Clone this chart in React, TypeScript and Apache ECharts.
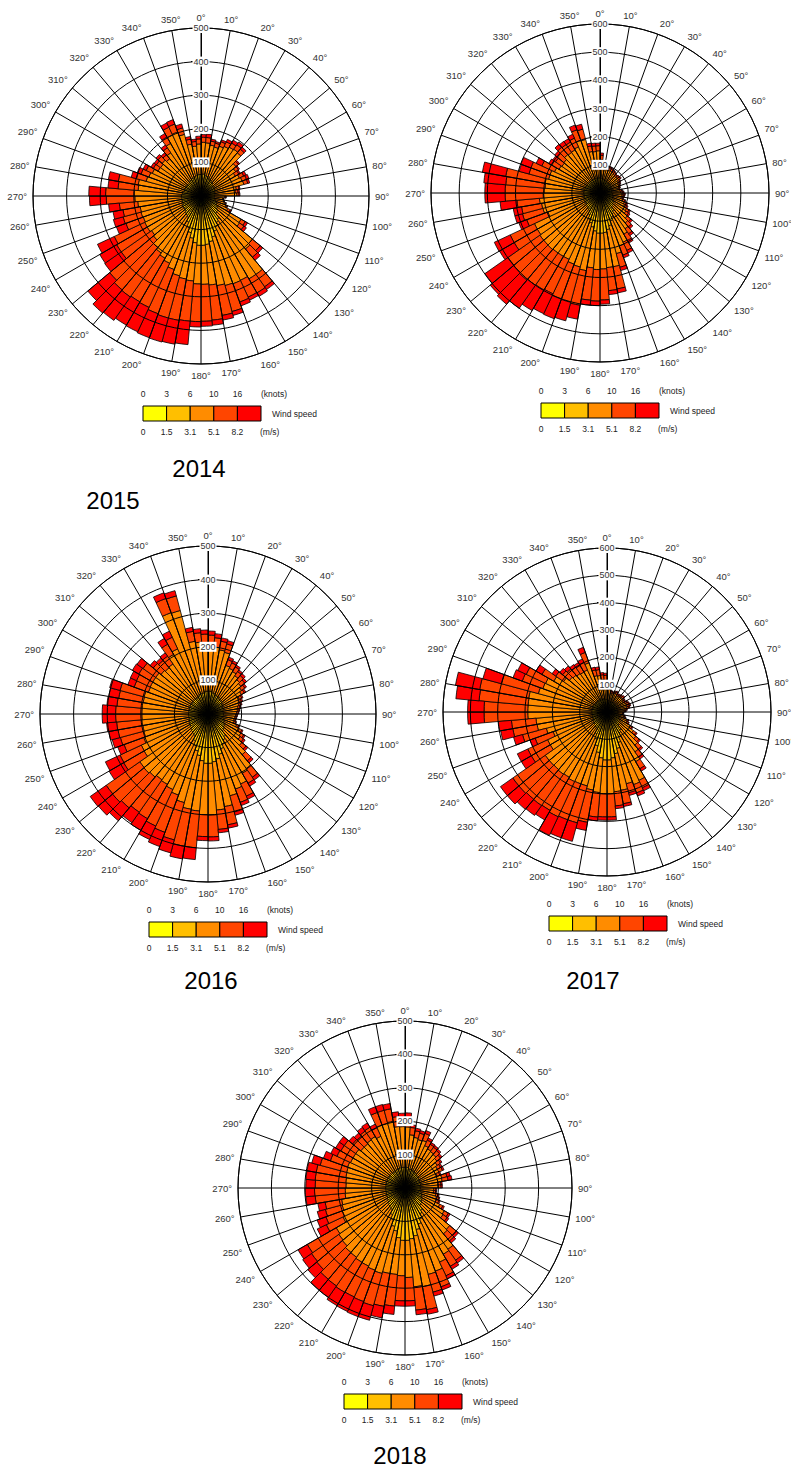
import React, { useEffect, useRef } from 'react';
import * as echarts from 'echarts';

// ---------- categories / labels ----------
const DIRECTIONS = ['0','5','10','15','20','25','30','35','40','45','50','55','60','65','70','75','80','85','90','95','100','105','110','115','120','125','130','135','140','145','150','155','160','165','170','175','180','185','190','195','200','205','210','215','220','225','230','235','240','245','250','255','260','265','270','275','280','285','290','295','300','305','310','315','320','325','330','335','340','345','350','355'];
const SPEED_KNOTS = ['0', '3', '6', '10', '16'];
const SPEED_MS = ['0', '1.5', '3.1', '5.1', '8.2'];
const CLASS_NAMES = ['0-1.5 m/s', '1.5-3.1 m/s', '3.1-5.1 m/s', '5.1-8.2 m/s', '>8.2 m/s'];
const COLORS = ['#FFFF00', '#FFBF00', '#FF8C00', '#FF4500', '#FF0000'];
const YEARS = ['2014', '2015', '2016', '2017', '2018'];
const RADIUS_MAX = [500, 600, 500, 600, 500];

// ---------- 2014 ----------
const Y2014_C1 = [25,24,22,22,20,20,18,18,17,16,16,16, 15,15,15,15,14,14,14,14,16,16,18,18, 20,20,22,22,24,24,26,26,28,28,28,30, 30,30,30,28,28,26,26,24,24,22,22,22, 22,20,20,20,20,20,20,20,20,18,18,18, 18,18,18,18,18,20,20,20,22,22,24,24];
const Y2014_C2 = [40,42,40,38,38,36,36,34,34,32,30,30, 30,30,28,28,28,26,26,26,28,30,32,34, 38,40,44,46,60,67,75,85,98,110,117,117, 117,110,98,85,72,60,48,46,44,42,40,40, 40,38,38,38,38,38,38,36,36,34,34,34, 34,34,34,34,36,36,38,38,38,40,40,40];
const Y2014_C3 = [95,93,92,91,100,107,114,118,117,88,80,72, 81,85,89,64,61,67,31,25,25,28,29,36, 80,80,134,138,201,194,176,167,150,133,121,116, 115,114,123,133,133,135,140,137,132,121,118,123, 123,125,127,126,131,139,141,132,134,117,113,108, 96,95,99,93,103,125,143,145,130,95,85,91];
const Y2014_C4 = [15,16,12,12,14,15,14,16,14,10,10,12, 14,14,12,8,8,6,3,2,2,3,4,8, 14,16,30,32,45,48,55,58,80,90,105,110, 112,120,125,130,140,145,150,160,165,170,110,105, 100,55,55,52,55,85,85,60,60,30,25,20, 16,15,16,15,18,22,25,25,20,15,14,15];
const Y2014_C5 = [8,10,6,5,6,8,10,10,8,4,4,5, 8,8,6,3,4,3,1,1,1,1,2,4, 8,9,10,12,10,12,10,12,12,14,15,15, 16,70,72,74,76,80,80,85,90,85,60,58, 55,30,30,30,32,50,50,30,30,16,12,10, 8,8,8,8,10,12,14,14,12,8,7,8];

// ---------- 2015 ----------
const Y2015_C1 = [18,18,17,17,16,16,16,15,15,15,15,14, 14,14,14,14,14,14,15,15,15,16,16,17, 18,18,20,20,22,22,24,24,26,26,28,28, 28,28,27,26,26,25,24,24,23,22,22,21, 21,20,20,20,20,20,20,20,20,19,19,19, 18,18,18,18,18,18,18,18,18,18,18,18];
const Y2015_C2 = [35,34,33,33,32,32,30,30,30,30,30,30, 28,28,28,28,28,28,30,30,30,32,34,36, 38,40,42,44,56,63,70,82,94,106,113,115, 115,108,96,84,72,60,48,46,44,42,40,40, 40,38,38,38,38,38,38,38,38,36,36,36, 36,36,36,36,36,36,36,36,36,36,36,36];
const Y2015_C3 = [65,43,38,36,40,38,39,37,34,36,36,32, 31,29,26,24,29,32,34,34,32,36,42,43, 53,54,65,75,77,84,99,94,103,134,125,127, 129,131,157,162,171,175,188,190,195,197,199,196, 196,139,152,153,158,144,141,138,140,134,134,123, 114,111,114,124,122,123,127,145,143,96,94,96];
const Y2015_C4 = [16,10,8,8,8,8,7,7,6,6,7,6, 6,5,5,4,6,7,7,6,6,7,8,9, 10,12,16,18,22,26,32,35,50,80,82,110, 112,115,125,130,132,135,138,140,142,140,138,95, 95,80,75,72,80,135,138,140,142,72,72,50, 30,28,30,34,34,32,34,40,38,20,20,18];
const Y2015_C5 = [8,5,4,4,4,4,3,3,3,3,4,3, 3,2,2,2,3,4,4,3,3,4,5,5, 6,6,7,8,8,10,10,10,12,14,14,15, 16,18,50,68,74,78,84,100,112,108,100,60, 62,30,28,30,60,72,72,78,84,36,38,22, 12,12,12,14,14,14,15,18,18,10,10,9];

// ---------- 2016 ----------
const Y2016_C1 = [24,24,22,22,20,20,20,18,18,18,18,17, 17,16,16,16,16,16,16,16,16,17,18,18, 20,20,22,22,24,24,26,26,28,28,28,30, 30,30,28,28,27,26,25,24,24,23,22,22, 22,21,21,20,20,20,20,20,20,20,20,20, 20,20,20,20,20,20,21,22,22,22,23,24];
const Y2016_C2 = [44,44,42,42,40,40,38,38,36,36,34,34, 32,32,32,30,30,30,30,30,30,32,34,36, 38,40,42,44,58,65,72,84,96,108,115,117, 117,110,98,86,74,62,50,48,46,44,42,40, 40,38,38,38,38,38,38,38,38,38,38,38, 38,38,38,38,38,38,40,42,42,42,44,44];
const Y2016_C3 = [137,132,130,126,94,90,88,83,79,74,70,64, 54,50,47,45,42,39,36,34,33,32,39,49, 55,57,68,92,116,115,132,128,128,144,144,154, 153,150,162,159,156,160,167,167,175,182,184,158, 157,145,139,139,140,139,139,139,138,139,131,132, 132,132,125,122,124,147,153,257,255,156,148,142];
const Y2016_C4 = [30,28,26,26,18,18,16,15,16,15,12,10, 8,8,7,6,5,5,4,4,4,5,6,8, 10,12,16,24,32,34,40,42,50,55,58,65, 65,110,112,115,118,120,118,118,120,122,122,70, 70,62,72,75,75,78,78,75,74,74,45,45, 48,46,30,28,28,35,38,45,45,30,28,28];
const Y2016_C5 = [12,12,10,10,8,7,6,6,8,7,6,5, 4,4,3,3,2,2,2,2,2,2,3,4, 5,6,7,8,10,10,10,10,10,10,10,12, 12,35,38,40,45,44,40,38,50,55,58,50, 48,20,25,28,30,40,40,30,30,32,20,20, 22,22,12,10,12,20,20,18,16,12,12,12];

// ---------- 2017 ----------
const Y2017_C1 = [16,15,14,14,14,14,14,14,14,14,14,14, 14,14,14,14,14,14,14,14,15,15,16,16, 18,18,20,20,22,22,24,24,26,26,28,28, 28,28,27,26,26,25,24,24,23,22,22,21, 21,20,20,20,20,20,20,20,20,19,19,19, 18,18,18,18,18,18,18,18,17,17,16,16];
const Y2017_C2 = [30,28,26,26,26,26,26,26,26,26,26,26, 26,26,26,26,26,26,26,26,28,30,32,34, 36,38,40,42,59,66,78,95,112,129,141,148, 148,141,124,102,80,63,46,44,42,40,40,38, 38,36,36,36,36,36,36,36,36,36,36,36, 34,34,34,34,34,34,34,34,32,32,30,30];
const Y2017_C3 = [48,40,31,30,33,34,30,31,33,34,31,30, 34,36,37,34,27,24,18,17,20,21,29,31, 44,62,78,96,97,122,174,164,134,136,124,123, 123,127,139,152,174,193,206,210,210,214,214,181, 181,154,174,204,205,234,234,234,235,205,195,193, 173,142,128,124,120,117,118,140,89,87,73,70];
const Y2017_C4 = [10,8,6,5,6,7,5,6,6,7,6,5, 7,8,8,7,5,4,3,2,3,4,5,6, 8,12,16,20,24,30,30,32,34,50,52,85, 85,90,120,140,140,142,140,140,142,145,145,80, 80,70,90,90,90,160,160,180,182,140,80,78, 50,35,32,30,28,28,30,40,22,22,18,18];
const Y2017_C5 = [6,4,3,3,3,4,3,3,3,4,3,3, 4,4,5,4,3,2,1,1,2,2,3,3, 4,5,6,7,8,10,12,12,10,10,10,12, 12,14,30,70,70,75,40,44,48,55,55,42, 42,20,34,45,48,60,60,85,90,70,36,34, 25,16,14,14,12,12,14,20,10,10,8,8];

// ---------- 2018 ----------
const Y2018_C1 = [22,22,20,20,20,20,18,18,18,18,17,17, 17,16,16,16,16,16,16,16,17,17,18,18, 20,20,22,22,24,24,26,26,28,28,28,30, 30,30,28,28,27,26,25,24,24,23,22,22, 21,21,20,20,20,20,20,20,20,20,20,20, 20,20,20,20,20,20,20,21,21,22,22,22];
const Y2018_C2 = [40,40,38,38,38,36,36,36,34,34,34,32, 32,32,32,32,30,30,30,30,32,34,36,38, 40,42,44,46,58,65,77,89,101,118,125,127, 127,120,103,91,74,62,50,48,46,44,42,40, 38,38,38,38,38,38,38,38,38,38,38,38, 38,38,38,38,38,38,38,40,40,40,40,40];
const Y2018_C3 = [121,98,96,92,94,84,81,79,79,73,67,63, 63,54,66,65,53,53,40,40,45,47,46,59, 76,77,109,111,142,140,142,150,139,154,144,111, 106,110,129,146,161,170,182,181,182,178,178,176, 146,141,137,135,122,121,119,120,122,123,125,122, 122,122,115,115,118,120,113,140,140,141,123,122];
const Y2018_C4 = [28,22,20,20,22,18,16,16,15,14,12,11, 12,9,16,18,9,9,6,6,7,7,8,10, 14,15,26,28,40,42,45,50,55,70,70,70, 75,95,100,100,100,102,104,105,105,100,100,100, 55,52,52,50,90,92,92,92,90,82,55,45, 42,42,32,30,32,32,28,40,40,38,30,28];
const Y2018_C5 = [14,8,8,8,9,7,6,6,6,6,5,5, 5,4,10,12,4,4,3,3,3,3,4,5, 6,6,8,8,10,10,10,10,12,14,14,16, 16,25,35,45,48,48,46,42,42,35,32,32, 30,28,25,22,28,28,28,28,28,26,22,20, 18,18,14,12,14,15,12,18,18,16,14,12];

const DATA: number[][][] = [
  [Y2014_C1, Y2014_C2, Y2014_C3, Y2014_C4, Y2014_C5],
  [Y2015_C1, Y2015_C2, Y2015_C3, Y2015_C4, Y2015_C5],
  [Y2016_C1, Y2016_C2, Y2016_C3, Y2016_C4, Y2016_C5],
  [Y2017_C1, Y2017_C2, Y2017_C3, Y2017_C4, Y2017_C5],
  [Y2018_C1, Y2018_C2, Y2018_C3, Y2018_C4, Y2018_C5],
];

// ---------- layout ----------
const PANELS = [
  { cx: 201, cy: 196, r: 168, lx: 143, ly: 406, yx: 199, yy: 468 },
  { cx: 600, cy: 193, r: 169, lx: 541, ly: 403, yx: 113, yy: 500 },
  { cx: 208, cy: 714, r: 168, lx: 149, ly: 922, yx: 211, yy: 980 },
  { cx: 607, cy: 712, r: 164, lx: 549, ly: 916, yx: 593, yy: 980 },
  { cx: 405, cy: 1188, r: 167, lx: 344, ly: 1394, yx: 400, yy: 1455 },
];
const BOX_W = 23.6;
const BOX_H = 15;
const FONT = '"Liberation Sans", Arial, Helvetica, sans-serif';

function txt(x: number, y: number, text: string, size: number, align: string, color = '#222') {
  return {
    type: 'text',
    x,
    y,
    silent: true,
    z: 20,
    style: {
      text,
      fontSize: size,
      fontFamily: FONT,
      fill: color,
      textAlign: align,
      align,
      textVerticalAlign: 'middle',
      verticalAlign: 'middle',
    },
  };
}

function buildOption() {
  const polar: any[] = [];
  const angleAxis: any[] = [];
  const radiusAxis: any[] = [];
  const series: any[] = [];
  const graphic: any[] = [];

  PANELS.forEach((p, k) => {
    const base = k * 3;
    const max = RADIUS_MAX[k];
    for (let q = 0; q < 3; q++) polar.push({ center: [p.cx, p.cy], radius: p.r });

    // bars polar
    angleAxis.push({
      polarIndex: base, type: 'category', data: DIRECTIONS, startAngle: 90, clockwise: true,
      boundaryGap: true, show: false,
    });
    radiusAxis.push({ polarIndex: base, type: 'value', min: 0, max, show: false });

    // grid polar
    angleAxis.push({
      polarIndex: base + 1, type: 'value', min: 0, max: 360, interval: 10, startAngle: 90, clockwise: true,
      z: 10,
      axisLine: { show: true, lineStyle: { color: '#000', width: 1 } },
      axisTick: { show: false },
      splitLine: { show: true, lineStyle: { color: '#000', width: 1 } },
      axisLabel: { show: true, formatter: '{value}°', margin: 6, fontSize: 9.5, color: '#333', fontFamily: FONT },
    });
    radiusAxis.push({
      polarIndex: base + 1, type: 'value', min: 0, max, interval: 100, z: 11,
      axisLine: { show: true, lineStyle: { color: '#000', width: 1 } },
      axisTick: { show: true, length: 10, lineStyle: { color: '#000', width: 1 } },
      splitLine: { show: true, lineStyle: { color: '#000', width: 1 } },
      axisLabel: {
        show: true, showMinLabel: false, margin: 0, align: 'center', verticalAlign: 'middle',
        backgroundColor: '#fff', padding: [1, 1, 0, 1], fontSize: 9, color: '#333', fontFamily: FONT,
      },
    });

    // second tick side
    angleAxis.push({ polarIndex: base + 2, type: 'value', min: 0, max: 360, startAngle: 90, show: false });
    radiusAxis.push({
      polarIndex: base + 2, type: 'value', min: 0, max, interval: 100, z: 9,
      axisLine: { show: false },
      axisTick: { show: true, inside: true, length: 10, lineStyle: { color: '#000', width: 1 } },
      splitLine: { show: false },
      axisLabel: { show: false },
    });

    DATA[k].forEach((vals, c) => {
      series.push({
        type: 'bar',
        name: CLASS_NAMES[c],
        coordinateSystem: 'polar',
        polarIndex: base,
        stack: 'rose' + YEARS[k],
        data: vals,
        barCategoryGap: '0%',
        barGap: '0%',
        silent: true,
        z: 2,
        itemStyle: { color: COLORS[c], borderColor: '#000', borderWidth: 0.8 },
      });
    });

    // legend bar
    for (let j = 0; j < 5; j++) {
      graphic.push({
        type: 'rect', silent: true, z: 20,
        shape: { x: p.lx + j * BOX_W, y: p.ly, width: BOX_W, height: BOX_H },
        style: { fill: COLORS[j], stroke: '#000', lineWidth: 1 },
      });
      graphic.push(txt(p.lx + j * BOX_W, p.ly - 12, SPEED_KNOTS[j], 8.5, 'center'));
      graphic.push(txt(p.lx + j * BOX_W, p.ly + BOX_H + 11, SPEED_MS[j], 8.5, 'center'));
    }
    graphic.push(txt(p.lx + 5 * BOX_W, p.ly - 12, '(knots)', 8.5, 'left'));
    graphic.push(txt(p.lx + 5 * BOX_W - 1, p.ly + BOX_H + 11, '(m/s)', 8.5, 'left'));
    graphic.push(txt(p.lx + 5 * BOX_W + 11, p.ly + BOX_H / 2, 'Wind speed', 8.5, 'left'));
    graphic.push(txt(p.yx, p.yy, YEARS[k], 24, 'center', '#000'));
  });

  return {
    animation: false,
    backgroundColor: '#fff',
    polar,
    angleAxis,
    radiusAxis,
    series,
    graphic,
  };
}

export default function App() {
  const ref = useRef<HTMLDivElement>(null);
  useEffect(() => {
    if (!ref.current) return;
    const chart = echarts.init(ref.current, undefined, { renderer: 'svg' });
    chart.setOption(buildOption() as any);
    return () => chart.dispose();
  }, []);
  return (
    <div
      ref={ref}
      style={{ position: 'absolute', left: 0, top: 0, width: 791, height: 1468, background: '#fff' }}
    />
  );
}
